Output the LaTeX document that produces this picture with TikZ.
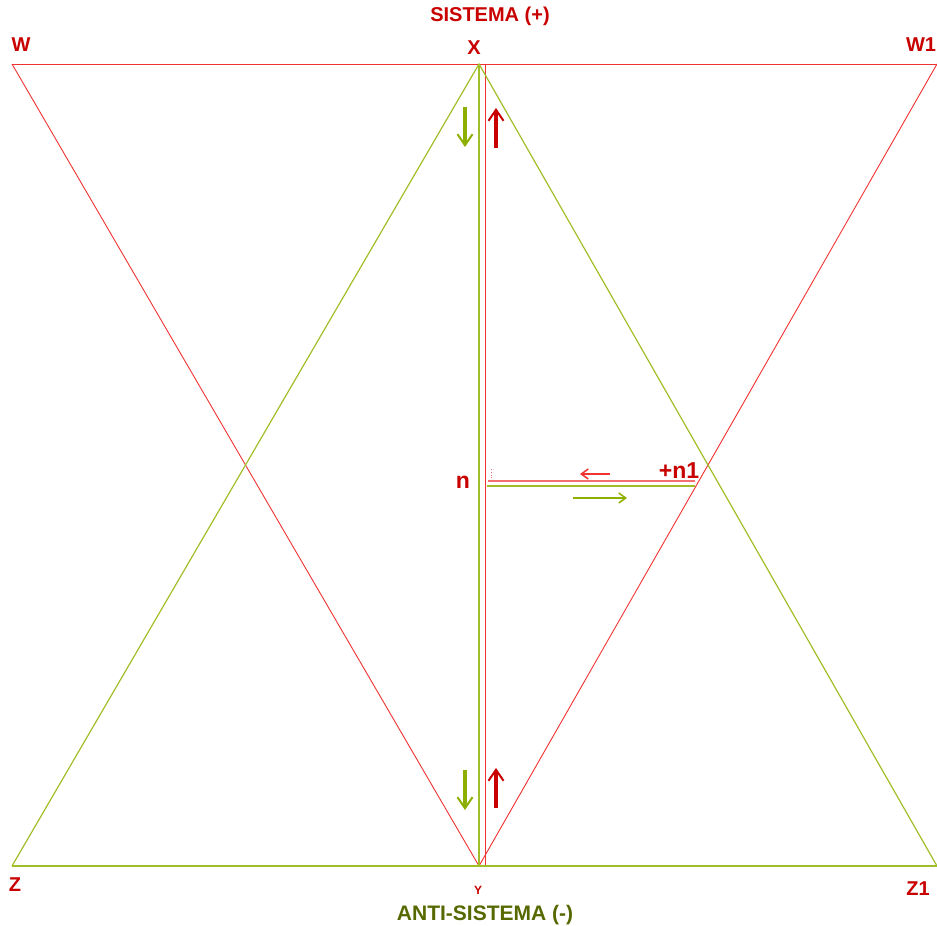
\documentclass[tikz,border=0pt]{standalone}
\usepackage{fontspec}
\setmainfont{Liberation Sans}
\usetikzlibrary{arrows.meta}
\definecolor{linered}{RGB}{240,50,50}
\definecolor{linegreen}{RGB}{160,190,40}
\definecolor{labelred}{RGB}{200,0,0}
\definecolor{arrowgreen}{RGB}{140,175,0}
\definecolor{antigreen}{RGB}{85,105,0}

\begin{document}
\begin{tikzpicture}[x=1pt, y=-1pt,
        redline/.style={draw=linered, line width=0.9pt},
        greenline/.style={draw=linegreen, line width=1.2pt},
        lbl/.style={text=labelred, inner sep=0pt, font=\bfseries\fontsize{20}{20}\selectfont},
        bigarrow/.style={line width=3.5pt, -{Straight Barb[length=11pt, width=15pt, line width=2pt]}},
        smallarrow/.style={line width=2.2pt, -{Straight Barb[length=7pt, width=10pt, line width=1.5pt]}},
    ]
    \useasboundingbox (0,0) rectangle (937,926);
    % corners
    \coordinate (W) at (12,64);
    \coordinate (X) at (479,64);
    \coordinate (W1) at (937,64);
    \coordinate (Z) at (12,866);
    \coordinate (Y) at (479,866);
    \coordinate (Z1) at (937,866);
    \coordinate (Xr) at (485,64);
    \coordinate (Yr) at (485,866);
    \coordinate (nr) at (488,481);
    \coordinate (n1r) at (695,481);
    \coordinate (ng) at (487,486);
    \coordinate (n1g) at (695,486);

    % sistema (red)
    \draw[redline] (W) -- (W1);
    \draw[redline] (W) -- (Y) -- (W1);
    \draw[redline] (Xr) -- (Yr);
    % anti-sistema (green)
    \draw[greenline] (Z) -- (Z1);
    \draw[greenline] (Z) -- (X) -- (Z1);
    \draw[greenline] (X) -- (Y);
    % n -- +n1
    \draw[draw=linered!70, line width=1.8pt] (nr) -- (n1r);
    \draw[greenline, line width=1.5pt] (ng) -- (n1g);
    \draw[draw=linered!70, line width=0.8pt, dotted] (491,469) -- (491,478);

    % flow arrows
    \draw[bigarrow, arrowgreen] (465,107) -- (465,147);
    \draw[bigarrow, labelred] (496,148) -- (496,108);
    \draw[bigarrow, arrowgreen] (465,770) -- (465,810);
    \draw[bigarrow, labelred] (496,808) -- (496,768);
    \draw[smallarrow, linered] (610,474) -- (580,474);
    \draw[smallarrow, arrowgreen] (573,498) -- (627,498);

    % labels
    \node[lbl, font=\bfseries\fontsize{20}{20}\selectfont] (sis) at (490,16) {SISTEMA (+)};
    \node[lbl, text=antigreen, font=\bfseries\fontsize{21}{21}\selectfont] (anti) at (485,915) {ANTI-SISTEMA (-)};
    \node[lbl] (lW) at (21,45) {W};
    \node[lbl] (lX) at (474,48) {X};
    \node[lbl] (lW1) at (921,45) {W1};
    \node[lbl] (lZ) at (15,885) {Z};
    \node[lbl] (lZ1) at (918,889) {Z1};
    \node[lbl, font=\bfseries\fontsize{12}{12}\selectfont] (lY) at (478,890) {Y};
    \node[lbl, font=\bfseries\fontsize{23}{23}\selectfont] (ln) at (463,482) {n};
    \node[lbl, font=\bfseries\fontsize{23}{23}\selectfont] (ln1) at (679,471) {+n1};
\end{tikzpicture}
\end{document}
